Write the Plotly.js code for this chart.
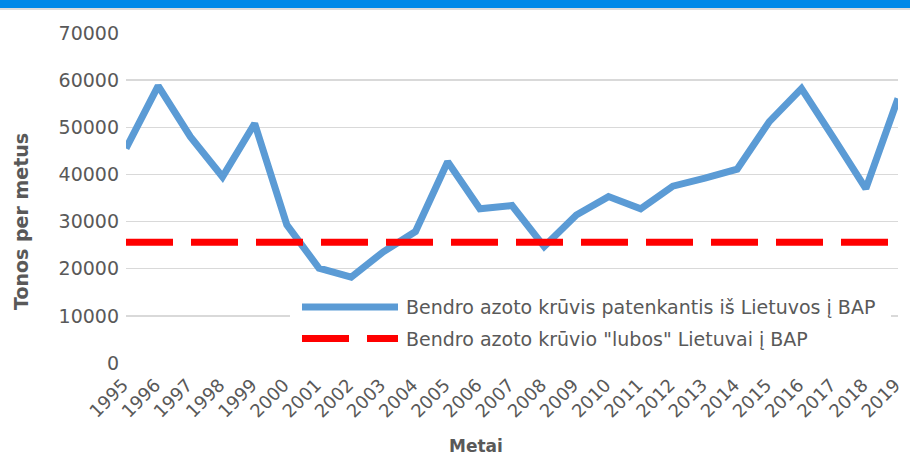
<!DOCTYPE html>
<html>
<head>
<meta charset="utf-8">
<script src="https://cdn.plot.ly/plotly-3.0.1.min.js"></script>
<style>
  html, body { margin: 0; padding: 0; background: #ffffff; }
  #wrap { position: relative; width: 910px; height: 456px; overflow: hidden; }
  #topbar { position: absolute; left: 0; top: 0; width: 910px; height: 8px; background: #0089E8; z-index: 5; }
  #topline { position: absolute; left: 0; top: 8px; width: 910px; height: 2px; background: #dcdcdc; z-index: 5; }
  #chart { position: absolute; left: 0; top: 0; width: 910px; height: 456px; }
</style>
</head>
<body>
<div id="wrap">
  <div id="chart"></div>
  <div id="topbar"></div>
  <div id="topline"></div>
</div>
<script>
// ---- data ----
const years = [1995, 1996, 1997, 1998, 1999, 2000, 2001, 2002, 2003, 2004, 2005, 2006, 2007, 2008, 2009, 2010, 2011, 2012, 2013, 2014, 2015, 2016, 2017, 2018, 2019];
const nitrogenLoad = [45500, 58800, 48000, 39500, 50800, 29300, 20100, 18200, 23600, 27900, 42700, 32700, 33400, 24700, 31400, 35300, 32700, 37500, 39200, 41100, 51200, 58200, 47700, 37000, 56100];
const ceilingLoad = [25600, 25600, 25600, 25600, 25600, 25600, 25600, 25600, 25600, 25600, 25600, 25600, 25600, 25600, 25600, 25600, 25600, 25600, 25600, 25600, 25600, 25600, 25600, 25600, 25600];
const seriesNames = ['Bendro azoto krūvis patenkantis iš Lietuvos į BAP', 'Bendro azoto krūvio "lubos" Lietuvai į BAP'];
const yTicks = [0, 10000, 20000, 30000, 40000, 50000, 60000, 70000];
const xTitle = 'Metai';
const yTitle = 'Tonos per metus';

// ---- styles ----
const FONT = 'DejaVu Sans';
const GREY = '#595959';
const BLUE = '#5B9BD5';
const RED = '#FF0000';
const DASH = '47px,18px';

// plot area in px (for converting legend placement to paper coords)
const L = 126, R = 898, T = 33, B = 363, W = 910, H = 456;
const px = x => (x - L) / (R - L);
const py = y => (B - y) / (B - T);

const traces = [
  {
    x: years, y: nitrogenLoad, name: seriesNames[0], type: 'scatter', mode: 'lines',
    line: { color: BLUE, width: 7, shape: 'linear' }, hoverinfo: 'x+y'
  },
  {
    x: years, y: ceilingLoad, name: seriesNames[1], type: 'scatter', mode: 'lines',
    line: { color: RED, width: 7, dash: DASH }, hoverinfo: 'x+y'
  }
];

const layout = {
  width: W, height: H,
  margin: { l: L, r: W - R, t: T, b: H - B, pad: 0 },
  paper_bgcolor: '#ffffff', plot_bgcolor: '#ffffff',
  showlegend: false,
  font: { family: FONT, color: GREY, size: 17 },
  xaxis: {
    type: 'linear', range: [years[0], years[years.length - 1]],
    tickmode: 'array', tickvals: years, ticktext: years.map(String),
    tickangle: -45, tickfont: { family: FONT, size: 18, color: GREY },
    ticklabelstandoff: 7, ticklabelshift: -3,
    showgrid: false, zeroline: false, showline: false, ticks: '',
    fixedrange: true
  },
  yaxis: {
    range: [0, 70000], tickmode: 'array', tickvals: yTicks, ticktext: yTicks.map(String),
    tickfont: { family: FONT, size: 19, color: GREY },
    showgrid: true, gridcolor: '#d9d9d9', gridwidth: 1.5,
    zeroline: false, showline: false, ticks: '', ticklabelstandoff: 6,
    fixedrange: true
  },
  shapes: [
    // legend background (covers gridline)
    { type: 'rect', xref: 'paper', yref: 'paper', x0: px(290), x1: px(891), y0: py(354), y1: py(291),
      fillcolor: '#ffffff', line: { width: 0 }, layer: 'above' },
    { type: 'line', xref: 'paper', yref: 'paper', x0: px(302), x1: px(398), y0: py(307), y1: py(307),
      line: { color: BLUE, width: 7 }, layer: 'above' },
    { type: 'line', xref: 'paper', yref: 'paper', x0: px(302), x1: px(398), y0: py(338.5), y1: py(338.5),
      line: { color: RED, width: 7, dash: DASH }, layer: 'above' }
  ],
  annotations: [
    { xref: 'paper', yref: 'paper', x: px(404), y: py(307), xanchor: 'left', yanchor: 'middle',
      text: seriesNames[0], showarrow: false, font: { family: FONT, size: 19, color: GREY } },
    { xref: 'paper', yref: 'paper', x: px(404), y: py(338.5), xanchor: 'left', yanchor: 'middle',
      text: seriesNames[1], showarrow: false, font: { family: FONT, size: 19, color: GREY } },
    { xref: 'paper', yref: 'paper', x: px(476), y: py(446), xanchor: 'center', yanchor: 'middle',
      text: '<b>' + xTitle + '</b>', showarrow: false, font: { family: FONT, size: 17, color: GREY } },
    { xref: 'paper', yref: 'paper', x: px(21), y: py(221), xanchor: 'center', yanchor: 'middle', textangle: -90,
      text: '<b>' + yTitle + '</b>', showarrow: false, font: { family: FONT, size: 19, color: GREY } }
  ]
};

Plotly.newPlot('chart', traces, layout, { displayModeBar: false, staticPlot: true });
</script>
</body>
</html>
